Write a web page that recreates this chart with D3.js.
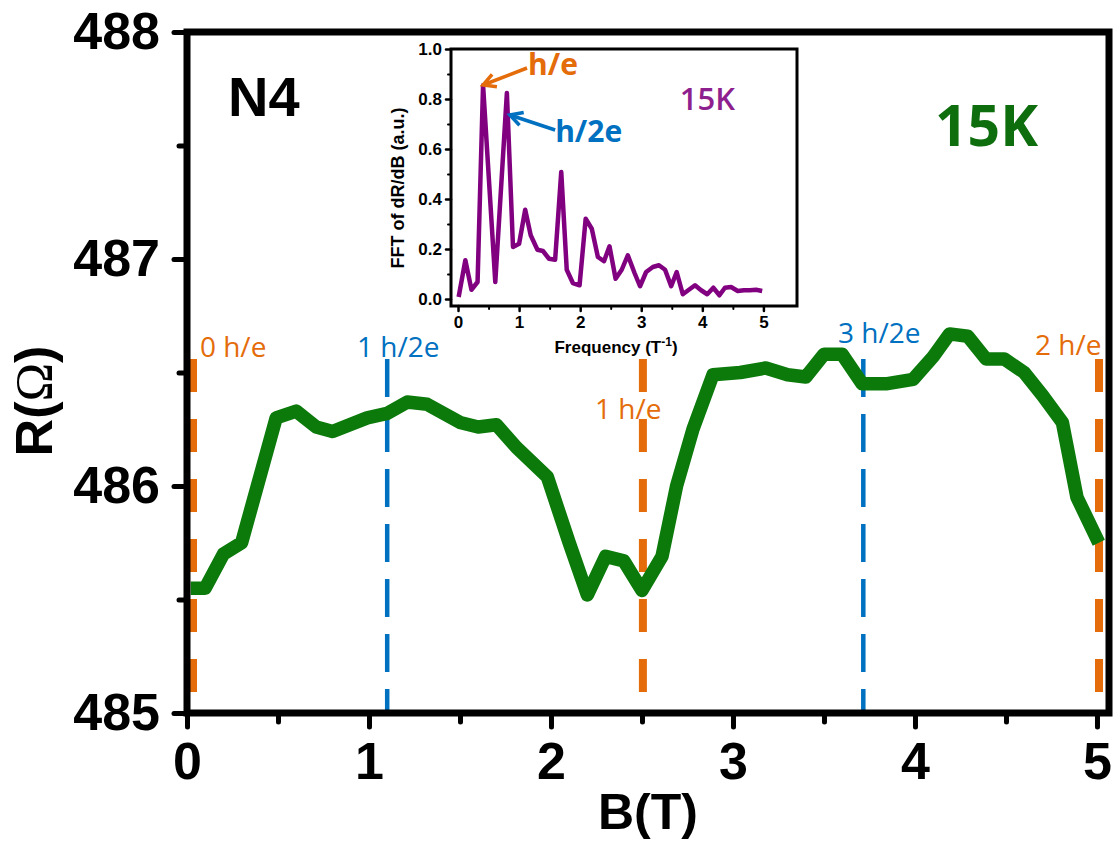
<!DOCTYPE html>
<html>
<head>
<meta charset="utf-8">
<script src="https://cdn.jsdelivr.net/npm/d3@7"></script>
<style>
    body { margin: 0; background: #fff; }
    text { font-family: "Liberation Sans", Arial, sans-serif; }
</style>
</head>
<body>
<div id="chart"></div>
<script>
// main curve: R(B) at 15K, sample N4
const fieldB = [0.02, 0.10, 0.20, 0.30, 0.49, 0.60, 0.71, 0.80, 0.99, 1.10, 1.21, 1.32, 1.50, 1.60, 1.70,
    1.81, 1.98, 2.10, 2.20, 2.30, 2.40, 2.50, 2.61, 2.69, 2.78, 2.89, 3.04, 3.18, 3.30, 3.40, 3.50,
    3.60, 3.71, 3.84, 3.99, 4.10, 4.19, 4.29, 4.39, 4.49, 4.60, 4.70, 4.81, 4.89, 5.01];
const resistance = [485.55, 485.55, 485.70, 485.75, 486.30, 486.33, 486.26, 486.24, 486.30, 486.32, 486.37,
    486.36, 486.28, 486.26, 486.27, 486.17, 486.04, 485.75, 485.52, 485.69, 485.67, 485.54, 485.69,
    486.00, 486.25, 486.49, 486.50, 486.52, 486.49, 486.48, 486.58, 486.58, 486.45, 486.45, 486.47,
    486.57, 486.67, 486.66, 486.56, 486.56, 486.50, 486.40, 486.28, 485.95, 485.75];

// inset: FFT of dR/dB
const fftFreq = [0.01, 0.12, 0.22, 0.32, 0.41, 0.61, 0.80, 0.90, 1.00, 1.10, 1.19, 1.30, 1.39, 1.49, 1.59,
    1.69, 1.78, 1.88, 1.99, 2.09, 2.19, 2.29, 2.39, 2.48, 2.58, 2.68, 2.78, 2.89, 2.98, 3.08, 3.19,
    3.29, 3.39, 3.49, 3.58, 3.68, 3.78, 3.88, 3.98, 4.08, 4.18, 4.28, 4.37, 4.47, 4.58, 4.68, 4.78,
    4.88, 4.98];
const fftAmp = [0.008, 0.155, 0.037, 0.068, 0.855, 0.068, 0.824, 0.208, 0.221, 0.357, 0.255, 0.197, 0.192,
    0.161, 0.157, 0.508, 0.117, 0.064, 0.055, 0.321, 0.281, 0.168, 0.151, 0.211, 0.081, 0.117, 0.175,
    0.104, 0.051, 0.108, 0.128, 0.135, 0.117, 0.051, 0.108, 0.019, 0.037, 0.055, 0.035, 0.019, 0.045,
    0.015, 0.045, 0.048, 0.032, 0.035, 0.035, 0.037, 0.032];

// flux quantum markers
const heField = [0.033, 2.505, 5.011];
const heText = ["0 h/e", "1 h/e", "2 h/e"];
const halfField = [1.10, 3.716];
const halfText = ["1 h/2e", "3 h/2e"];

// tick values
const rTicks = [485, 486, 487, 488];
const rMinor = [485.5, 486.5, 487.5];
const bTicks = [0, 1, 2, 3, 4, 5];
const bMinor = [0.5, 1.5, 2.5, 3.5, 4.5];
const fTicks = [0, 1, 2, 3, 4, 5];
const fMinor = [0.5, 1.5, 2.5, 3.5, 4.5];
const aTicks = [0, 0.2, 0.4, 0.6, 0.8, 1.0];
const aMinor = [0.1, 0.3, 0.5, 0.7, 0.9];

const W = 1115, H = 842;
const ORANGE = "#e46c0a", BLUE = "#0070c0", GREEN = "#0b7a0b", PURPLE = "#800080";

const svg = d3.select("#chart").append("svg")
    .attr("width", W)
    .attr("height", H);

const x = d3.scaleLinear().domain([0, 5.066]).range([187, 1109]);
const y = d3.scaleLinear().domain([485, 488]).range([713, 32]);

// axes (outward ticks, frame drawn separately)
function styleAxis(sel, size, width) {
    sel.select(".domain").remove();
    sel.selectAll(".tick line").attr("stroke", "#000").attr("stroke-width", width).attr("stroke-linecap", "round");
    sel.selectAll(".tick text").attr("fill", "#000").style("font-size", size + "px").style("font-weight", "bold");
}

svg.append("g").attr("transform", `translate(${x.range()[0]},0)`)
    .call(d3.axisLeft(y).tickValues(rMinor).tickSize(8).tickFormat(""))
    .call(s => styleAxis(s, 52, 5));
svg.append("g").attr("transform", `translate(${x.range()[0]},0)`)
    .call(d3.axisLeft(y).tickValues(rTicks).tickSize(13).tickPadding(14).tickFormat(d3.format("d")))
    .call(s => styleAxis(s, 52, 5));
svg.append("g").attr("transform", `translate(0,${y.range()[0]})`)
    .call(d3.axisBottom(x).tickValues(bMinor).tickSize(9).tickFormat(""))
    .call(s => styleAxis(s, 52, 5));
svg.append("g").attr("transform", `translate(0,${y.range()[0]})`)
    .call(d3.axisBottom(x).tickValues(bTicks).tickSize(14).tickPadding(15).tickFormat(d3.format("d")))
    .call(s => styleAxis(s, 52, 5));

// dashed marker lines
svg.selectAll(".he-line")
    .data(heField)
    .enter().append("line")
    .attr("class", "he-line")
    .attr("x1", d => x(d)).attr("x2", d => x(d))
    .attr("y1", y(486.56)).attr("y2", y(485.06))
    .attr("stroke", ORANGE)
    .attr("stroke-width", 8)
    .attr("stroke-dasharray", "33,27");

svg.selectAll(".half-line")
    .data(halfField)
    .enter().append("line")
    .attr("class", "half-line")
    .attr("x1", d => x(d)).attr("x2", d => x(d))
    .attr("y1", y(486.56)).attr("y2", y(485))
    .attr("stroke", BLUE)
    .attr("stroke-width", 4.5)
    .attr("stroke-dasharray", "38,17");

// green R(B) curve
const rLine = d3.line()
    .x((d, i) => x(fieldB[i]))
    .y(d => y(d));

svg.append("path")
    .datum(resistance)
    .attr("d", rLine)
    .attr("fill", "none")
    .attr("stroke", GREEN)
    .attr("stroke-width", 13.5)
    .attr("stroke-linejoin", "round");

// marker labels
const heLabelPos = [[0.071, 486.57], [2.242, 486.295], [4.659, 486.577]];
const halfLabelPos = [[0.934, 486.57], [3.577, 486.63]];

svg.selectAll(".he-label")
    .data(heText)
    .enter().append("text")
    .attr("x", (d, i) => x(heLabelPos[i][0]))
    .attr("y", (d, i) => y(heLabelPos[i][1]))
    .style("font-family", "'Open Sans', sans-serif")
    .style("font-size", "28px")
    .attr("fill", ORANGE)
    .text(d => d);

svg.selectAll(".half-label")
    .data(halfText)
    .enter().append("text")
    .attr("x", (d, i) => x(halfLabelPos[i][0]))
    .attr("y", (d, i) => y(halfLabelPos[i][1]))
    .style("font-family", "'Open Sans', sans-serif")
    .style("font-size", "28px")
    .attr("fill", BLUE)
    .text(d => d);

// frame
svg.append("rect")
    .attr("x", x.range()[0]).attr("y", y.range()[1])
    .attr("width", x.range()[1] - x.range()[0])
    .attr("height", y.range()[0] - y.range()[1])
    .attr("fill", "none")
    .attr("stroke", "#000")
    .attr("stroke-width", 7);

// axis titles and labels
svg.append("text")
    .attr("x", (x.range()[0] + x.range()[1]) / 2)
    .attr("y", 829)
    .attr("text-anchor", "middle")
    .style("font-size", "50px").style("font-weight", "bold")
    .text("B(T)");

const rLabel = svg.append("text")
    .attr("transform", "translate(52,401) rotate(-90)")
    .attr("text-anchor", "middle")
    .style("font-size", "52px").style("font-weight", "bold");
rLabel.append("tspan").text("R(");
rLabel.append("tspan").style("font-family", "'Liberation Serif', serif").style("font-weight", "normal").text("Ω");
rLabel.append("tspan").text(")");

svg.append("text")
    .attr("x", x(0.225)).attr("y", y(487.63))
    .style("font-size", "56px").style("font-weight", "bold")
    .text("N4");

svg.append("text")
    .attr("x", x(4.11)).attr("y", y(487.50))
    .style("font-family", "'Open Sans', sans-serif")
    .style("font-size", "57px").style("font-weight", "bold")
    .attr("fill", "#0e6e0e")
    .text("15K");

// ---------- inset ----------
const ix = d3.scaleLinear().domain([-0.115, 5.55]).range([451, 797]);
const iy = d3.scaleLinear().domain([-0.028, 1.0]).range([306, 49]);
const inset = svg.append("g");

inset.append("rect")
    .attr("x", ix.range()[0]).attr("y", iy.range()[1])
    .attr("width", ix.range()[1] - ix.range()[0])
    .attr("height", iy.range()[0] - iy.range()[1])
    .attr("fill", "#fff");

inset.append("g").attr("transform", `translate(${ix.range()[0]},0)`)
    .call(d3.axisLeft(iy).tickValues(aMinor).tickSize(3).tickFormat(""))
    .call(s => styleAxis(s, 17, 2));
inset.append("g").attr("transform", `translate(${ix.range()[0]},0)`)
    .call(d3.axisLeft(iy).tickValues(aTicks).tickSize(5).tickPadding(4).tickFormat(d3.format(".1f")))
    .call(s => styleAxis(s, 17, 2.5));
inset.append("g").attr("transform", `translate(0,${iy.range()[0]})`)
    .call(d3.axisBottom(ix).tickValues(fMinor).tickSize(3).tickFormat(""))
    .call(s => styleAxis(s, 17, 2));
inset.append("g").attr("transform", `translate(0,${iy.range()[0]})`)
    .call(d3.axisBottom(ix).tickValues(fTicks).tickSize(5).tickPadding(5).tickFormat(d3.format("d")))
    .call(s => styleAxis(s, 17, 2.5));

const fftLine = d3.line()
    .x((d, i) => ix(fftFreq[i]))
    .y(d => iy(d));

inset.append("path")
    .datum(fftAmp)
    .attr("d", fftLine)
    .attr("fill", "none")
    .attr("stroke", PURPLE)
    .attr("stroke-width", 4.5)
    .attr("stroke-linejoin", "round");

inset.append("rect")
    .attr("x", ix.range()[0]).attr("y", iy.range()[1])
    .attr("width", ix.range()[1] - ix.range()[0])
    .attr("height", iy.range()[0] - iy.range()[1])
    .attr("fill", "none")
    .attr("stroke", "#000")
    .attr("stroke-width", 3);

inset.append("text")
    .attr("transform", "translate(404,188) rotate(-90)")
    .attr("text-anchor", "middle")
    .style("font-size", "18px").style("font-weight", "bold")
    .text("FFT of dR/dB (a.u.)");

const fLabel = inset.append("text")
    .attr("x", 616).attr("y", 353)
    .attr("text-anchor", "middle")
    .style("font-size", "17px").style("font-weight", "bold");
fLabel.append("tspan").text("Frequency (T");
fLabel.append("tspan").attr("dy", -7).style("font-size", "12px").text("-1");
fLabel.append("tspan").attr("dy", 7).text(")");

// arrows pointing at peaks
function arrow(from, to, color) {
    const x1 = ix(from[0]), y1 = iy(from[1]), x2 = ix(to[0]), y2 = iy(to[1]);
    const a = Math.atan2(y2 - y1, x2 - x1), len = 14, spread = 0.5;
    inset.append("line")
        .attr("x1", x1).attr("y1", y1).attr("x2", x2).attr("y2", y2)
        .attr("stroke", color).attr("stroke-width", 3.5);
    inset.append("path")
        .attr("d", `M${x2 - len * Math.cos(a - spread)},${y2 - len * Math.sin(a - spread)}L${x2},${y2}L${x2 - len * Math.cos(a + spread)},${y2 - len * Math.sin(a + spread)}`)
        .attr("fill", "none").attr("stroke", color).attr("stroke-width", 3.5)
        .attr("stroke-linejoin", "miter");
}
arrow([1.13, 0.924], [0.41, 0.856], ORANGE);
arrow([1.59, 0.676], [0.85, 0.736], BLUE);

inset.append("text")
    .attr("x", ix(1.146)).attr("y", iy(0.896))
    .style("font-family", "'Open Sans', sans-serif")
    .style("font-size", "30px").style("font-weight", "bold")
    .attr("fill", ORANGE)
    .text("h/e");

inset.append("text")
    .attr("x", ix(1.59)).attr("y", iy(0.628))
    .style("font-family", "'Open Sans', sans-serif")
    .style("font-size", "30px").style("font-weight", "bold")
    .attr("fill", BLUE)
    .text("h/2e");

inset.append("text")
    .attr("x", ix(3.63)).attr("y", iy(0.756))
    .style("font-family", "'Open Sans', sans-serif")
    .style("font-size", "31px").style("font-weight", "600")
    .attr("fill", "#8e1f8e")
    .text("15K");
</script>
</body>
</html>
